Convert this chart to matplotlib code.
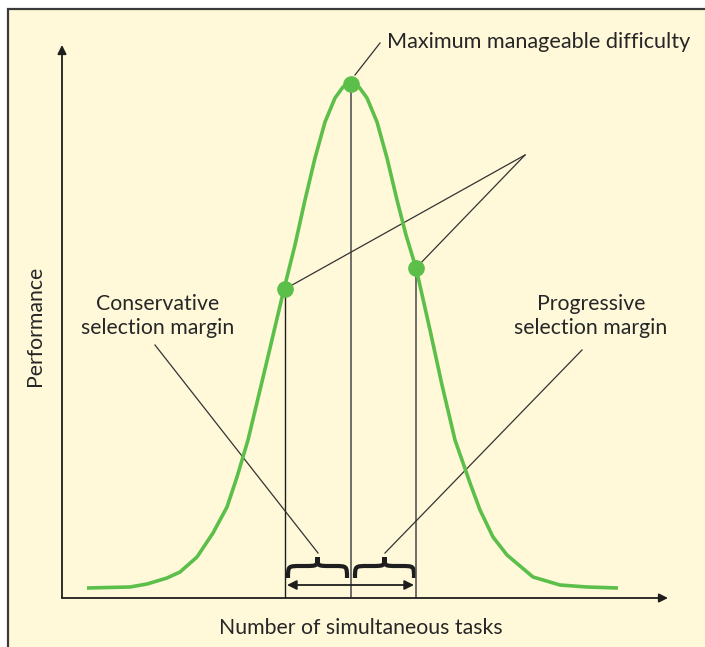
import matplotlib
matplotlib.use("Agg")
import matplotlib.pyplot as plt
from matplotlib.patches import Rectangle, PathPatch
from matplotlib.path import Path

plt.rcParams["font.family"] = ["Lato", "DejaVu Sans"]

# performance curve over the number of simultaneous tasks (arbitrary units)
task_x = [2.5, 6.8, 8.5, 10.5, 11.8, 13.5, 15.1, 16.5, 17.5, 18.6, 20.4, 22.2,
          23.3, 24.3, 25.3, 26.3, 27.3, 28.1, 28.9, 29.7, 30.5, 31.5, 32.5,
          33.5, 34.4, 35.4, 36.8, 38.0, 39.3, 40.0, 40.8, 41.8, 43.1, 44.5,
          47.1, 49.8, 52.5, 55.6]
perf_y = [1.0, 1.1, 1.4, 2.0, 2.6, 4.1, 6.5, 9.1, 12.1, 15.8, 23.3, 30.9,
          35.3, 39.8, 44.0, 47.6, 50.0, 51.1, 51.6, 51.1, 50.0, 47.6, 44.0,
          39.8, 36.3, 33.0, 26.8, 21.3, 15.8, 13.8, 11.5, 8.8, 6.1, 4.3,
          2.1, 1.3, 1.1, 1.0]

# conservative point, maximum manageable difficulty, progressive point
mark_x = [22.3, 28.9, 35.4]
mark_y = [30.9, 51.4, 33.0]

BG = "#FFF9DA"
GREEN = "#5CBF4A"
INK = "#262626"
FS = 15.3

fig = plt.figure(figsize=(7.05, 6.47), dpi=100)
fig.patch.set_facecolor("white")
fig.patches.append(Rectangle((8 / 705, -0.1), 1.2, 1 - 9 / 647 + 0.1,
                             transform=fig.transFigure, facecolor=BG,
                             edgecolor="#3A3A3A", linewidth=1.6, zorder=-5))

ax = fig.add_axes([62 / 705, 49 / 647, 606 / 705, 553 / 647])
ax.set_zorder(2)
ax.set_xlim(0, 60.6)
ax.set_ylim(0, 55.3)
ax.set_facecolor("none")
ax.axis("off")

# axes drawn as arrows
arrow = dict(arrowstyle="-|>", color="#1E1E1E", lw=1.3, mutation_scale=13,
             shrinkA=0, shrinkB=0)
ax.annotate("", xy=(0, 55.3), xytext=(0, 0), arrowprops=arrow, annotation_clip=False)
ax.annotate("", xy=(60.6, 0), xytext=(0, 0), arrowprops=arrow, annotation_clip=False)

ax.plot(task_x, perf_y, color=GREEN, lw=2.6, solid_capstyle="butt",
        solid_joinstyle="round", zorder=3)

# drop lines from the marked points
ax.vlines(mark_x[0], 0, mark_y[0], color="#1E1E1E", lw=1.0, zorder=2)
ax.vlines(mark_x[1:], 0, mark_y[1:], color="#555555", lw=1.2, zorder=2)

ax.plot(mark_x, mark_y, "o", color=GREEN, ms=11, zorder=4)

# lines from the two margin points to a common vertex
apex = (46.3, 44.3)
for x, y in [(mark_x[0], mark_y[0]), (mark_x[2], mark_y[2])]:
    ax.plot([x, apex[0]], [y, apex[1]], color="#333333", lw=0.9, zorder=2)

ax.plot([29.3, 31.8], [52.3, 55.5], color="#333333", lw=0.9, clip_on=False)
ax.text(32.5, 55.6, "Maximum manageable difficulty", fontsize=FS + 0.3,
        color=INK, ha="left", va="center", clip_on=False)

ax.text(9.6, 28.2, "Conservative\nselection margin", fontsize=FS,
        color=INK, ha="center", va="center", linespacing=1.25)
ax.text(52.9, 28.2, "Progressive\nselection margin", fontsize=FS,
        color=INK, ha="center", va="center", linespacing=1.25)

ax.plot([9.3, 25.6], [25.3, 4.5], color="#333333", lw=0.9)
ax.plot([52.0, 32.3], [24.8, 4.5], color="#333333", lw=0.9)


def brace(x0, x1, y_end, y_bar, y_tip):
    xm = (x0 + x1) / 2
    r = 1.3
    verts = [
        (x0, y_end), (x0, y_bar), (x0, y_bar), (x0 + r, y_bar),
        (xm - r, y_bar),
        (xm, y_bar), (xm, y_bar), (xm, y_tip),
        (xm, y_bar), (xm, y_bar), (xm + r, y_bar),
        (x1 - r, y_bar),
        (x1, y_bar), (x1, y_bar), (x1, y_end),
    ]
    codes = [Path.MOVETO, Path.CURVE4, Path.CURVE4, Path.CURVE4,
             Path.LINETO,
             Path.CURVE4, Path.CURVE4, Path.CURVE4,
             Path.CURVE4, Path.CURVE4, Path.CURVE4,
             Path.LINETO,
             Path.CURVE4, Path.CURVE4, Path.CURVE4]
    ax.add_patch(PathPatch(Path(verts, codes), facecolor="none",
                           edgecolor="#1E1E1E", lw=3.0, capstyle="butt"))


brace(mark_x[0] + 0.3, mark_x[1] - 0.4, 2.0, 3.2, 4.1)
brace(mark_x[1] + 0.4, mark_x[2] - 0.2, 2.0, 3.2, 4.1)

ax.annotate("", xy=(mark_x[0] + 0.2, 1.3), xytext=(mark_x[2] - 0.2, 1.3),
            arrowprops=dict(arrowstyle="<|-|>", color="#1E1E1E", lw=1.3,
                            mutation_scale=14, shrinkA=0, shrinkB=0))

fig.text(361 / 705, 1 - 628 / 647, "Number of simultaneous tasks", fontsize=FS,
         color=INK, ha="center", va="center")
fig.text(35 / 705, 1 - 326 / 647, "Performance", fontsize=FS, rotation=90,
         color=INK, ha="center", va="center")

fig.savefig("out.png", dpi=100)
